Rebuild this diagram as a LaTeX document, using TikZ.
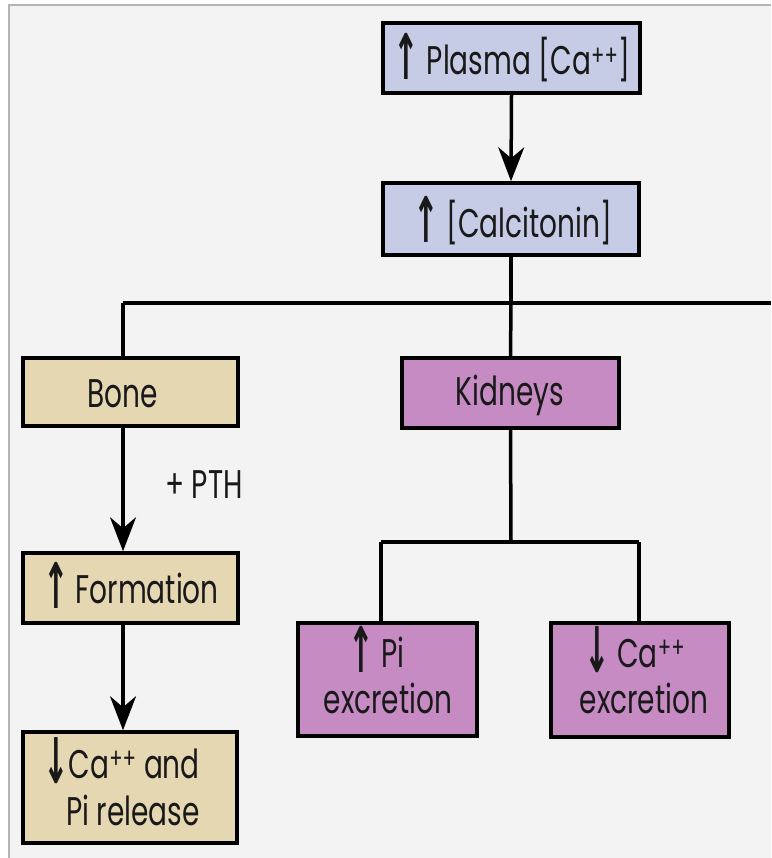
\documentclass[tikz,border=0pt]{standalone}
\usepackage{fontspec}
\usepackage{graphicx}
\setmainfont[FakeStretch=0.7]{Poppins}
\newfontfamily\arrfont{DejaVu Sans}
\usetikzlibrary{arrows.meta}
\definecolor{bgc}{HTML}{F3F3F3}
\definecolor{framec}{HTML}{B4B4B4}
\definecolor{bluebox}{HTML}{C6CCE6}
\definecolor{beigebox}{HTML}{E6D7B3}
\definecolor{purplebox}{HTML}{C78BC4}
\newcommand{\upa}{\raisebox{-5pt}{\scalebox{0.85}[1.75]{\arrfont\bfseries\fontsize{36}{40}\selectfont ↑}}}
\newcommand{\dna}{\raisebox{-5pt}{\scalebox{0.85}[1.75]{\arrfont\bfseries\fontsize{36}{40}\selectfont ↓}}}
\begin{document}
\begin{tikzpicture}[x=1pt,y=-1pt,
  boxn/.style={draw=black, line width=3.5pt, rectangle, inner sep=0pt},
  conn/.style={line width=3.5pt, draw=black},
  arr/.style={conn, -{Stealth[length=34pt,width=26pt,inset=11pt]}},
  txt/.style={font=\fontsize{40}{46}\selectfont, inner sep=0pt, text=black!90}]
\useasboundingbox (0,0) rectangle (771,858);
\fill[bgc] (9,5) rectangle (771,858);
\draw[framec, line width=1.5pt] (9,858) -- (9,5) -- (771,5);

% boxes
\node[boxn, fill=bluebox, minimum width=257pt, minimum height=70pt] (plasma) at (511.5,58) {};
\node[boxn, fill=bluebox, minimum width=256pt, minimum height=72pt] (calc) at (511,219) {};
\node[boxn, fill=beigebox, minimum width=215pt, minimum height=68pt] (bone) at (130.5,392) {};
\node[boxn, fill=purplebox, minimum width=217pt, minimum height=70pt] (kid) at (510.5,393) {};
\node[boxn, fill=beigebox, minimum width=215pt, minimum height=70pt] (form) at (130.5,588) {};
\node[boxn, fill=beigebox, minimum width=214pt, minimum height=111pt] (rel) at (130,787.5) {};
\node[boxn, fill=purplebox, minimum width=179pt, minimum height=113pt] (pi) at (387.5,679.5) {};
\node[boxn, fill=purplebox, minimum width=178pt, minimum height=114pt] (ca) at (640,680) {};

% texts
\node[txt, anchor=base] (tplasma) at (512,75) {\upa\ Plasma [Ca\textsuperscript{++}]};
\node[txt, anchor=base] (tcalc) at (513,238) {\upa\,[Calcitonin]};
\node[txt, anchor=base] (tbone) at (123,407) {Bone};
\node[txt, anchor=base] (tkid) at (510,405) {Kidneys};
\node[txt, anchor=base] (tpth) at (204,498) {+ PTH};
\node[txt, anchor=base] (tform) at (131,603) {\upa\,Formation};
\node[txt, anchor=base east] (trel1) at (200,778) {\dna Ca\textsuperscript{++} and};
\node[txt, anchor=base east] (trel2) at (200,825) {Pi release};
\node[txt, anchor=base west] (tpi1) at (348,667) {\upa\ Pi};
\node[txt, anchor=base] (tpi2) at (388,713) {excretion};
\node[txt, anchor=base west] (tca1) at (584,667) {\dna\ Ca\textsuperscript{++}};
\node[txt, anchor=base] (tca2) at (644,713) {excretion};

% connector points
\coordinate (bus) at (511,303);
\coordinate (busL) at (123,303);
\coordinate (busR) at (771,303);
\coordinate (kbus) at (511,542);
\coordinate (kbL) at (381,542);
\coordinate (kbR) at (639,542);

% connectors
\draw[arr] (plasma.south) -- (calc.north);
\draw[conn] (calc.south) -- (bus);
\draw[conn] (busL) -- (busR);
\draw[conn] (busL) -- (busL |- bone.north);
\draw[conn] (bus) -- (kid.north);
\draw[arr] (busL |- bone.south) -- (busL |- form.north);
\draw[arr] (busL |- form.south) -- (busL |- rel.north);
\draw[conn] (kid.south) -- (kbus);
\draw[conn] (kbL) -- (kbR);
\draw[conn] (kbL) -- (kbL |- pi.north);
\draw[conn] (kbR) -- (kbR |- ca.north);
\end{tikzpicture}
\end{document}
